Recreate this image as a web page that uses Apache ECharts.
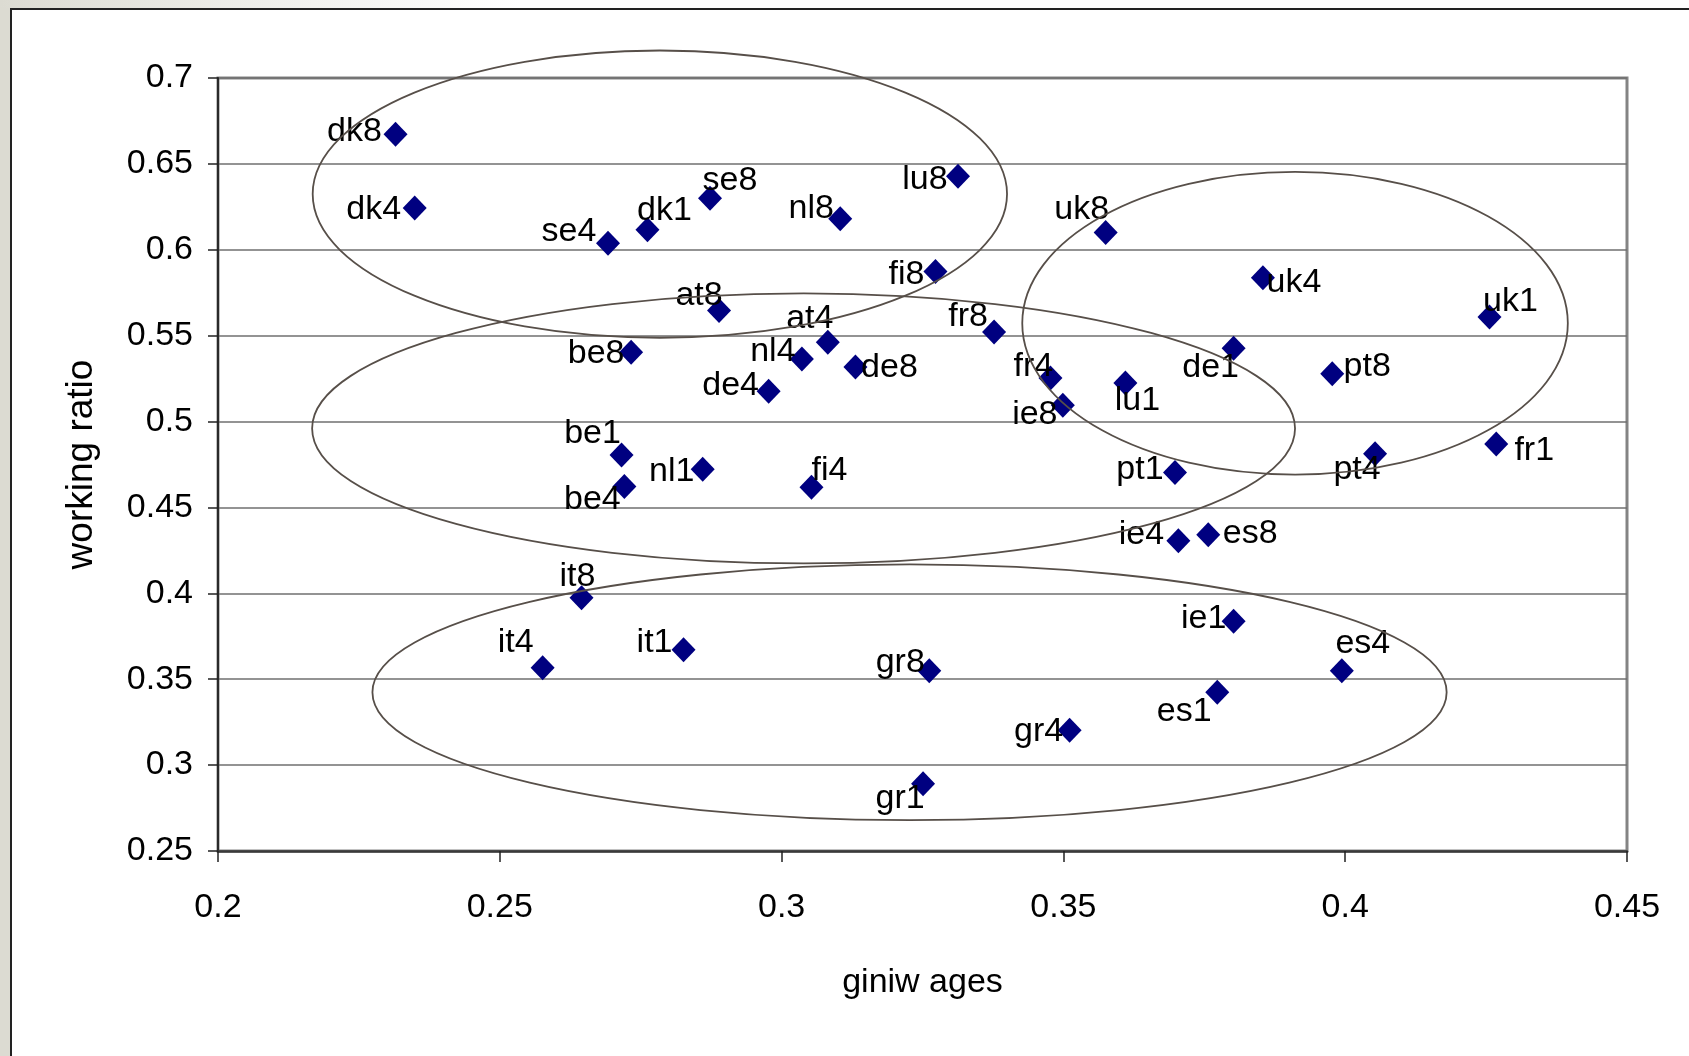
<!DOCTYPE html>
<html>
<head>
<meta charset="utf-8">
<script src="https://cdn.jsdelivr.net/npm/echarts@6/dist/echarts.min.js"></script>
<style>
html,body{margin:0;padding:0;width:1689px;height:1056px;overflow:hidden;background:#fff;}
#bgL{position:absolute;left:0;top:0;width:10px;height:1056px;background:#dcdbd2;}
#bgT{position:absolute;left:0;top:0;width:1689px;height:8px;background:linear-gradient(to right,#dcdbd2 0px,#eeeeea 250px,#fff 520px);}
#frame{position:absolute;left:10px;top:8px;width:1679px;height:1048px;border-left:2px solid #222;border-top:2px solid #222;box-sizing:border-box;background:#fff;}
#chart{position:absolute;left:0;top:0;width:1689px;height:1056px;}
</style>
</head>
<body>
<div id="bgL"></div><div id="bgT"></div><div id="frame"></div>
<div id="chart"></div>
<script>
// ---- data ----
const labels = ['dk8','dk4','se4','dk1','se8','nl8','lu8','fi8','uk8','uk4','uk1','at8','at4','nl4','be8','de8','de4','fr8','fr4','ie8','lu1','de1','pt8','be1','nl1','be4','fi4','pt1','pt4','fr1','ie4','es8','it8','it4','it1','ie1','es4','gr8','es1','gr4','gr1'];
const giniWages = [0.2315,0.2349,0.2692,0.2762,0.2873,0.3104,0.3313,0.3273,0.3575,0.3854,0.4256,0.2889,0.3082,0.3036,0.2733,0.3131,0.2977,0.3377,0.3477,0.3499,0.3610,0.3802,0.3977,0.2716,0.2860,0.2721,0.3053,0.3698,0.4053,0.4268,0.3704,0.3757,0.2645,0.2576,0.2826,0.3802,0.3994,0.3262,0.3773,0.3511,0.3251];
const workingRatio = [0.6673,0.6243,0.6038,0.6117,0.6300,0.6180,0.6428,0.5874,0.6101,0.5837,0.5608,0.5647,0.5462,0.5364,0.5403,0.5318,0.5176,0.5521,0.5253,0.5095,0.5224,0.5427,0.5279,0.4806,0.4723,0.4622,0.4618,0.4703,0.4812,0.4869,0.4306,0.4341,0.3975,0.3567,0.3671,0.3837,0.3550,0.3550,0.3424,0.3203,0.2891];
// cluster ellipses: centre x, centre y, radius x, radius y (data units)
const ellipseCx = [0.2784, 0.3039, 0.3911, 0.3227];
const ellipseCy = [0.6324, 0.4960, 0.5572, 0.3424];
const ellipseRx = [0.0616, 0.0872, 0.0484, 0.0953];
const ellipseRy = [0.0836, 0.0786, 0.0881, 0.0744];
const xTickLabels = ['0.2','0.25','0.3','0.35','0.4','0.45'];
const yTickLabels = ['0.25','0.3','0.35','0.4','0.45','0.5','0.55','0.6','0.65','0.7'];

// ---- styles (label placement, px offsets from the marker) ----
const labelOffsets = [[-41,-6],[-41,-1],[-39,-15],[17,-22],[20,-21],[-29,-13],[-33,0],[-29,0],[-24,-26],[31,2],[21,-18],[-20,-18],[-18,-27],[-29,-10],[-35,-2],[34,-2],[-38,-9],[-26,-18],[-17,-14],[-28,6],[12,15],[-23,16],[35,-10],[-29,-24],[-31,-1],[-32,10],[18,-20],[-35,-6],[-18,13],[38,4],[-37,-9],[42,-4],[-4,-24],[-27,-28],[-29,-10],[-30,-6],[21,-30],[-29,-11],[-33,16],[-31,-2],[-23,12]];
const LABEL_DY = 3;

const FONT = "'Liberation Sans', Arial, sans-serif";
const pointData = labels.map((n, i) => ({
  name: n,
  value: [giniWages[i], workingRatio[i]],
  label: { offset: [labelOffsets[i][0], labelOffsets[i][1] + LABEL_DY] }
}));
const ellipseData = ellipseCx.map((c, i) => [c, ellipseCy[i], ellipseRx[i], ellipseRy[i]]);

const chart = echarts.init(document.getElementById('chart'), null, {renderer: 'canvas'});
chart.setOption({
  animation: false,
  backgroundColor: 'transparent',
  grid: {left: 218, right: 62, top: 78, bottom: 205, show: true, borderColor: '#848484', borderWidth: 3, backgroundColor: 'transparent'},
  xAxis: {
    type: 'value', min: 0.2, max: 0.45, interval: 0.05,
    name: 'giniw ages', nameLocation: 'middle', nameGap: 115,
    nameTextStyle: {fontFamily: FONT, fontSize: 34, color: '#000'},
    axisLine: {show: true, onZero: false, lineStyle: {color: '#3a3a3a', width: 2.5}},
    axisTick: {show: true, inside: false, length: 11, lineStyle: {color: '#222', width: 1.5}},
    axisLabel: {margin: 40, fontFamily: FONT, fontSize: 34, color: '#000',
      formatter: v => xTickLabels[Math.round((v - 0.2) / 0.05)]},
    splitLine: {show: false}
  },
  yAxis: {
    type: 'value', min: 0.25, max: 0.7, interval: 0.05,
    name: 'working ratio', nameLocation: 'middle', nameGap: 118,
    nameTextStyle: {fontFamily: FONT, fontSize: 37, color: '#000'},
    axisLine: {show: true, onZero: false, lineStyle: {color: '#2a2a2a', width: 2}},
    axisTick: {show: true, inside: false, length: 10, lineStyle: {color: '#222', width: 1.5}},
    axisLabel: {margin: 25, fontFamily: FONT, fontSize: 34, color: '#000', padding: [5, 0, 0, 0],
      formatter: v => yTickLabels[Math.round((v - 0.25) / 0.05)]},
    splitLine: {show: true, lineStyle: {color: '#6f6f6f', width: 1.5}}
  },
  series: [
    {
      type: 'scatter',
      z: 3,
      symbol: 'diamond',
      symbolSize: [24, 25],
      itemStyle: {color: '#000080', opacity: 1},
      label: {show: true, position: 'inside', formatter: '{b}', fontFamily: FONT, fontSize: 34, color: '#000', opacity: 1},
      emphasis: {disabled: true},
      data: pointData
    },
    {
      type: 'custom',
      z: 10,
      clip: false,
      silent: true,
      encode: {x: 0, y: 1},
      renderItem: function (params, api) {
        const c = api.coord([api.value(0), api.value(1)]);
        const s = api.size([api.value(2), api.value(3)]);
        return {
          type: 'ellipse',
          shape: {cx: c[0], cy: c[1], rx: s[0], ry: s[1]},
          style: {fill: 'none', stroke: '#574f49', lineWidth: 1.8}
        };
      },
      data: ellipseData
    }
  ]
});
</script>
</body>
</html>
